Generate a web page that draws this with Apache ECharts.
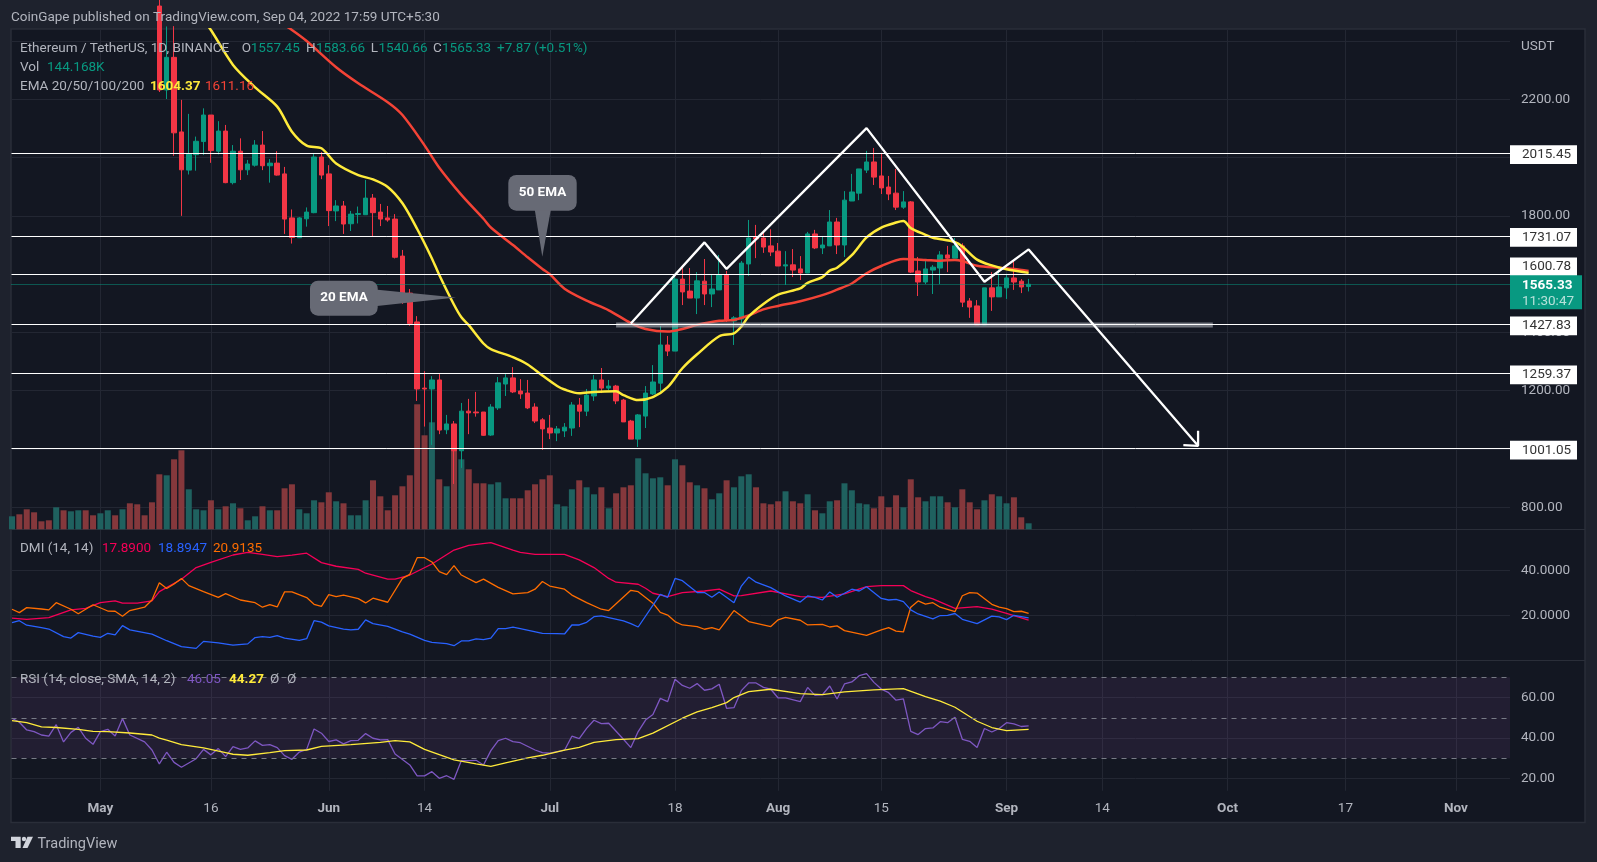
<!DOCTYPE html>
<html>
<head>
<meta charset="utf-8">
<title>ETH / USDT</title>
<style>
  html, body { margin: 0; padding: 0; background: #1e222d; }
  #chart { width: 1597px; height: 862px; }
</style>
<script src="https://cdn.jsdelivr.net/npm/echarts@6/dist/echarts.min.js"></script>
</head>
<body>
<div id="chart"></div>
<script>
// candles start at bar 20 (May 9), everything before that is above the visible price range
const firstCandleBar = 20;
const candleOpen = [
  2520, 2232, 2344, 2088, 1957, 2010, 2055, 2146, 2022, 2091,
  1914, 2022, 1958, 1974, 2043, 1972, 1981, 1944, 1793, 1725,
  1790, 1811, 2002, 1944, 1817, 1834, 1773, 1805, 1804, 1861,
  1813, 1793, 1789, 1662, 1535, 1436, 1209, 1206, 1237, 1066,
  1086, 994, 1130, 1127, 1127, 1048, 1141, 1223, 1244, 1199,
  1192, 1144, 1100, 1072, 1055, 1062, 1072, 1151, 1130, 1182,
  1237, 1209, 1216, 1168, 1096, 1034, 1113, 1189, 1226, 1357,
  1336, 1583, 1542, 1518, 1576, 1532, 1546, 1597, 1439, 1446,
  1635, 1726, 1724, 1697, 1679, 1628, 1632, 1618, 1604, 1738,
  1690, 1697, 1779, 1700, 1851, 1878, 1957, 1985, 1937, 1899,
  1878, 1830, 1848, 1611, 1573, 1614, 1621, 1666, 1655, 1697,
  1508, 1491, 1426, 1553, 1522, 1553, 1587, 1576, 1557.45
];
const candleClose = [
  2232, 2344, 2085, 1958, 2012, 2056, 2146, 2024, 2091, 1914,
  2022, 1958, 1978, 2043, 1972, 1981, 1940, 1789, 1726, 1793,
  1813, 2002, 1940, 1818, 1834, 1772, 1806, 1808, 1861, 1811,
  1789, 1786, 1658, 1533, 1431, 1206, 1206, 1237, 1065, 1086,
  994, 1130, 1124, 1124, 1047, 1144, 1227, 1244, 1196, 1189,
  1141, 1096, 1069, 1055, 1069, 1075, 1151, 1130, 1185, 1237,
  1209, 1216, 1165, 1093, 1034, 1117, 1192, 1230, 1357, 1336,
  1583, 1539, 1518, 1577, 1532, 1549, 1597, 1443, 1450, 1638,
  1724, 1721, 1693, 1676, 1628, 1632, 1614, 1604, 1738, 1690,
  1700, 1779, 1700, 1854, 1882, 1961, 1985, 1933, 1896, 1875,
  1830, 1848, 1607, 1573, 1618, 1624, 1666, 1655, 1697, 1504,
  1487, 1426, 1553, 1522, 1556, 1587, 1573, 1556, 1565.33
];
const candleLow = [
  2225, 2201, 2006, 1800, 1942, 1955, 2009, 1982, 2011, 1912,
  1908, 1923, 1940, 1969, 1957, 1914, 1938, 1738, 1705, 1724,
  1763, 1809, 1926, 1765, 1782, 1738, 1748, 1774, 1803, 1729,
  1765, 1780, 1654, 1498, 1423, 1165, 1077, 1014, 1051, 1051,
  880, 935, 1051, 1111, 1045, 1045, 1134, 1182, 1192, 1172,
  1137, 1089, 997, 1034, 1027, 1041, 1045, 1075, 1113, 1165,
  1192, 1202, 1154, 1093, 1034, 1007, 1072, 1185, 1192, 1319,
  1336, 1494, 1518, 1463, 1494, 1487, 1546, 1436, 1357, 1422,
  1594, 1655, 1673, 1662, 1628, 1563, 1590, 1580, 1604, 1686,
  1669, 1697, 1669, 1659, 1851, 1854, 1947, 1906, 1875, 1854,
  1820, 1824, 1604, 1525, 1566, 1532, 1566, 1607, 1655, 1487,
  1450, 1426, 1426, 1474, 1522, 1515, 1546, 1535, 1540.66
];
const candleHigh = [
  2550, 2450, 2451, 2198, 2150, 2072, 2169, 2146, 2125, 2112,
  2043, 2066, 1992, 2060, 2091, 1995, 2022, 1968, 1822, 1796,
  1829, 2015, 2019, 1974, 1854, 1851, 1817, 1832, 1923, 1875,
  1841, 1834, 1806, 1683, 1549, 1456, 1267, 1250, 1257, 1117,
  1096, 1158, 1172, 1196, 1127, 1154, 1247, 1257, 1281, 1240,
  1237, 1157, 1106, 1117, 1079, 1089, 1161, 1175, 1206, 1254,
  1278, 1237, 1220, 1172, 1100, 1120, 1216, 1288, 1422, 1388,
  1597, 1631, 1621, 1607, 1652, 1597, 1666, 1611, 1456, 1645,
  1786, 1769, 1745, 1754, 1707, 1679, 1686, 1662, 1745, 1752,
  1731, 1820, 1793, 1885, 1944, 1961, 2023, 2033, 2016, 1937,
  1961, 1885, 1851, 1659, 1649, 1631, 1679, 1697, 1724, 1706,
  1518, 1511, 1553, 1607, 1621, 1601, 1649, 1583, 1583.66
];

// volume in thousands, one per bar from Apr 19
const volumes = [
  312, 360, 480, 408, 192, 216, 528, 456, 432, 456,
  456, 336, 384, 456, 336, 480, 624, 600, 336, 648,
  1320, 1296, 1680, 1896, 960, 480, 456, 696, 480, 552,
  624, 504, 216, 312, 552, 456, 456, 984, 1080, 480,
  384, 696, 648, 888, 672, 624, 336, 336, 696, 1176,
  792, 456, 816, 1032, 1296, 3000, 2256, 2568, 1200, 1032,
  1896, 1680, 1440, 1104, 1104, 1080, 1128, 744, 744, 744,
  936, 1080, 1200, 1296, 600, 552, 960, 1176, 1008, 840,
  1008, 504, 864, 1008, 1056, 1704, 1344, 1224, 1248, 1056,
  1680, 1536, 1128, 1056, 984, 720, 864, 1176, 1008, 1272,
  1320, 1008, 624, 600, 672, 912, 672, 624, 840, 456,
  384, 672, 696, 1104, 936, 624, 600, 504, 792, 528,
  816, 528, 1200, 768, 672, 792, 792, 648, 528, 960,
  648, 480, 696, 840, 792, 624, 768, 288, 144.168
];
// direction of the volume bars whose candles are off the top of the chart
const earlyVolumeUp = [1, 0, 0, 0, 0, 0, 1, 0, 1, 1, 0, 0, 1, 1, 0, 1, 0, 0, 0, 0];

const ema20Bars = [26, 27, 30, 33, 36, 38, 40, 42, 44, 47, 49, 51, 53, 55, 57, 58, 60, 61, 62, 64, 65, 68, 70, 72, 74, 75, 77, 79, 82, 83, 85, 87, 89, 91, 93, 96, 98, 99, 100, 102, 104, 107, 108, 110, 111, 112, 114, 116, 118, 120, 121, 122, 124, 125, 128, 129, 131, 133, 135, 138];
const ema20Values = [2470, 2438, 2318, 2241, 2175, 2089, 2041, 2032, 1980, 1940, 1925, 1899, 1843, 1755, 1654, 1597, 1495, 1452, 1425, 1362, 1343, 1315, 1290, 1252, 1216, 1204, 1191, 1196, 1198, 1185, 1168, 1178, 1212, 1277, 1325, 1387, 1397, 1420, 1455, 1498, 1530, 1551, 1570, 1590, 1612, 1622, 1665, 1726, 1760, 1777, 1782, 1758, 1735, 1725, 1710, 1695, 1650, 1630, 1617, 1604.37];
const ema50Bars = [36, 38, 40, 44, 47, 51, 53, 56, 58, 61, 64, 65, 68, 70, 72, 73, 75, 78, 81, 84, 86, 89, 91, 93, 96, 98, 100, 102, 104, 107, 110, 112, 114, 116, 118, 121, 124, 126, 128, 129, 131, 134, 136, 138];
const ema50Values = [2470, 2438, 2400, 2310, 2255, 2190, 2146, 2042, 1965, 1872, 1790, 1760, 1700, 1658, 1618, 1600, 1550, 1509, 1476, 1432, 1412, 1403, 1412, 1426, 1440, 1443, 1458, 1479, 1491, 1507, 1528, 1547, 1568, 1603, 1628, 1652, 1649, 1646, 1649, 1645, 1629, 1622, 1618, 1611.16];

const adxBars = [0, 2, 5, 8, 10, 12, 14, 15, 17, 19, 20, 23, 25, 27, 30, 32, 34, 36, 38, 40, 42, 44, 47, 48, 51, 52, 54, 57, 60, 62, 65, 68, 69, 71, 75, 77, 79, 81, 82, 85, 86, 87, 89, 91, 94, 96, 98, 99, 103, 107, 110, 113, 116, 118, 121, 122, 124, 125, 128, 131, 133, 135, 138];
const adxValues = [18.7, 18.2, 19, 22.4, 23.1, 25.6, 26.4, 25.4, 25.4, 26.4, 30.5, 36, 41.2, 43.5, 46.8, 48, 47.1, 46.1, 46.7, 47.6, 43.4, 41.8, 40.4, 38.7, 36.1, 36.1, 37.9, 42.8, 49, 51.1, 52.3, 49, 48, 47.1, 47.1, 44.6, 41.2, 36.4, 34.7, 33.8, 32, 29.8, 28.3, 30.1, 30.8, 31.6, 28.6, 28.7, 30.8, 28.3, 28, 29.5, 32.7, 33.2, 33.2, 31, 28.3, 27.3, 23.1, 23.9, 22.7, 20.9, 17.89];
const diPlusBars = [0, 1, 2, 4, 5, 7, 8, 9, 11, 12, 13, 14, 15, 16, 19, 21, 23, 25, 26, 28, 30, 32, 33, 34, 35, 36, 37, 39, 40, 41, 42, 43, 45, 46, 47, 48, 49, 51, 53, 54, 56, 57, 59, 60, 61, 62, 63, 64, 65, 66, 67, 68, 69, 72, 74, 75, 76, 77, 78, 79, 80, 81, 83, 84, 85, 88, 89, 90, 91, 93, 94, 95, 96, 98, 99, 100, 101, 103, 105, 107, 108, 109, 110, 111, 112, 114, 115, 116, 118, 119, 120, 121, 122, 123, 125, 126, 127, 128, 129, 131, 133, 134, 135, 136, 138];
const diPlusValues = [16.7, 17.6, 15.6, 14.5, 13.9, 10.5, 9.9, 12.3, 10.7, 10.2, 12, 11.3, 15.4, 13.5, 11.6, 8.7, 6.1, 5.3, 8.4, 7.7, 6.7, 7.3, 10.1, 10.5, 10.2, 11, 9.9, 8.9, 9.6, 17.6, 17, 15.3, 13.9, 13.5, 13.8, 18, 16.3, 15.1, 12.6, 11.6, 8.9, 8, 7.4, 6.5, 8.6, 8.6, 9.5, 9.2, 9.9, 14.1, 14.1, 14.7, 14.1, 12, 11.9, 11.7, 15.7, 15.7, 16.9, 19.4, 19.7, 19, 17.5, 16.3, 14.8, 29.3, 28, 36.4, 35.4, 30.1, 30.1, 28, 30.4, 25.6, 33, 37, 34.7, 32.3, 28.6, 25.9, 28.6, 28, 26.8, 30.4, 28, 31.6, 30.8, 32.7, 27.5, 26.8, 27.1, 26.1, 22.4, 20.6, 18.4, 19.9, 20, 20.8, 18.2, 16.3, 19.6, 19.3, 18.1, 20, 18.89];
const diMinusBars = [0, 1, 2, 4, 5, 6, 8, 9, 11, 13, 14, 15, 16, 18, 19, 20, 21, 22, 23, 24, 26, 28, 29, 31, 33, 34, 35, 36, 37, 38, 40, 41, 42, 43, 44, 45, 47, 48, 49, 51, 53, 54, 55, 56, 57, 58, 59, 60, 61, 63, 64, 66, 68, 70, 71, 72, 73, 75, 76, 78, 80, 81, 84, 85, 87, 88, 89, 90, 91, 93, 94, 95, 96, 98, 100, 103, 104, 105, 107, 108, 110, 111, 112, 113, 116, 118, 119, 120, 121, 122, 123, 124, 125, 126, 128, 129, 130, 131, 133, 134, 135, 136, 137, 138];
const diMinusValues = [22.7, 21.2, 23.4, 22.8, 22.4, 25.6, 22.7, 20.7, 24.7, 21.9, 21.8, 19.6, 22.1, 23.6, 26.8, 34.5, 31.9, 33.9, 36.4, 33.2, 30.5, 28, 29.6, 26.8, 25.6, 23.6, 24.7, 23.7, 30.4, 30.4, 27.9, 24.9, 24, 29.2, 28.3, 29, 27.4, 25.5, 27.6, 25.8, 36.4, 38.2, 45.6, 45.6, 43.7, 39.4, 38.1, 42.1, 37.9, 34.5, 36.1, 32.4, 29.5, 30.1, 31.6, 35, 33, 31.6, 29, 25.6, 22.7, 22.1, 31.1, 30.5, 25.4, 21.3, 20.1, 17.2, 15.7, 15, 13.8, 14.5, 13.5, 22.1, 17.2, 15, 18, 19.1, 17.8, 15.7, 16, 14.8, 15.3, 13.2, 11.1, 13.5, 14.5, 13, 12.6, 23.6, 26.4, 25, 25.6, 23.6, 21.6, 28.7, 30.1, 29.9, 24.9, 23.6, 23, 21.6, 21.8, 20.91];

const rsiBars = [0, 1, 2, 3, 4, 5, 6, 7, 8, 9, 10, 11, 12, 13, 14, 15, 16, 18, 19, 20, 21, 22, 23, 25, 26, 27, 28, 29, 30, 31, 32, 33, 34, 35, 36, 37, 38, 39, 40, 41, 42, 43, 44, 45, 46, 47, 48, 49, 50, 51, 52, 54, 55, 56, 57, 58, 59, 60, 61, 62, 63, 64, 65, 66, 67, 68, 69, 71, 72, 73, 75, 76, 77, 78, 79, 80, 81, 83, 84, 85, 86, 87, 88, 89, 90, 91, 92, 93, 94, 95, 96, 97, 98, 99, 100, 101, 102, 103, 104, 105, 107, 108, 109, 110, 111, 112, 113, 114, 115, 116, 117, 118, 119, 120, 121, 122, 123, 124, 125, 126, 127, 128, 129, 130, 131, 132, 133, 134, 135, 136, 137, 138];
const rsiValues = [49.8, 47.8, 44, 43.2, 41.5, 41, 46.6, 38.1, 42.8, 45.3, 39.9, 36.9, 43.2, 44.3, 41, 49.6, 41.5, 38.1, 34.1, 27.2, 33, 28, 25.6, 29.8, 34.4, 31.7, 34.8, 30.8, 35.8, 34.4, 35.1, 38.6, 36.4, 36.8, 35.3, 31.3, 29.5, 33.1, 34.4, 44.5, 42.4, 38.3, 39.1, 37.1, 38.7, 38.9, 42.2, 39.9, 39.1, 39.2, 32.1, 26.7, 21.3, 21.3, 23.4, 20.1, 21.4, 19.6, 28.9, 28.9, 29, 26.7, 33.8, 38.7, 39.9, 38.2, 37.7, 34.1, 32.8, 32.5, 34, 40.9, 39.7, 44.8, 48.8, 47.1, 47.3, 39.4, 35.3, 43.2, 48.9, 51.6, 59.6, 58, 69, 66, 64.6, 66.9, 63.6, 64.3, 66.6, 54.7, 55, 63.4, 67.2, 67.2, 65, 64.1, 59.8, 59.8, 58, 65, 61.1, 61.4, 65.7, 59.3, 66.7, 67.7, 70.8, 71.8, 67.5, 64.2, 62.4, 58.7, 59.3, 43.3, 41.7, 44.7, 45, 48.1, 47.6, 50.3, 39.4, 38.4, 35.3, 44.7, 43, 44.7, 47.6, 47, 45.7, 46.05];
const rsiMaBars = [0, 2, 4, 6, 9, 11, 13, 16, 19, 20, 21, 23, 26, 29, 30, 32, 35, 37, 40, 42, 46, 50, 52, 54, 56, 58, 60, 63, 65, 67, 70, 72, 75, 77, 79, 82, 85, 87, 91, 93, 95, 97, 98, 100, 103, 107, 110, 113, 117, 121, 124, 126, 128, 131, 133, 135, 138];
const rsiMaValues = [48.6, 47.6, 45.5, 45.2, 44.3, 43.3, 43.2, 42.5, 41.5, 40, 39, 36.8, 35.1, 32.8, 32, 31.5, 32.8, 33.8, 34.1, 35.9, 36.8, 37.9, 38.7, 38.1, 34.4, 31.8, 29.2, 27.2, 26, 27.7, 30.2, 31.5, 34, 35.4, 37.9, 39.2, 39.7, 42.4, 49.8, 52.9, 55, 57.5, 60, 62.9, 64.1, 61.9, 61.4, 62.8, 63.8, 64.4, 60.5, 58.2, 55.2, 48.3, 45.2, 43.7, 44.27];

// horizontal levels and drawings on the price pane
const priceLevels = [2015.45, 1731.07, 1600.78, 1427.83, 1259.37, 1001.05];
const lastPrice = 1565.33;
const countdown = '11:30:47';
const patternDates = ['2022-07-12', '2022-07-22', '2022-07-25', '2022-08-13', '2022-08-29', '2022-09-04', '2022-09-27'];
const patternPrices = [1431, 1709, 1618, 2101, 1574, 1685, 1011];
const arrowDates = ['2022-09-25', '2022-09-27', '2022-09-27'];
const arrowPrices = [1013, 1011, 1063];
const necklineDates = ['2022-07-10', '2022-09-29'];
const necklinePrices = [1425.5, 1425.5];

const tickDates = ['2022-05-01', '2022-05-16', '2022-06-01', '2022-06-14', '2022-07-01', '2022-07-18', '2022-08-01', '2022-08-15', '2022-09-01', '2022-09-14', '2022-10-01', '2022-10-17', '2022-11-01'];
const tickLabels = ['May', '16', 'Jun', '14', 'Jul', '18', 'Aug', '15', 'Sep', '14', 'Oct', '17', 'Nov'];
const priceGridTicks = [800, 1000, 1200, 1400, 1600, 1800, 2000, 2200, 2400];
const priceLabelTicks = [800, 1200, 1400, 1800, 2200];
const dmiTicks = [20, 40];
const rsiTicks = [20, 40, 60];
const rsiGuides = [70, 50, 30];

const FONT = 'Roboto, "Open Sans", sans-serif';
const TEXT = '#b2b5be';
const UP = '#089981';
const DOWN = '#f23645';
const GRID = '#232733';
const EDGE = '#2a2e39';
const INK_YELLOW = '#ffeb3b';
const INK_RED = '#f44336';
const PANE_LEFT = 11.5, PANE_RIGHT = 1510, FRAME_RIGHT = 1585;

const dayTime = s => { const p = s.split('-'); return +new Date(+p[0], +p[1] - 1, +p[2]); };
const barTime = i => +new Date(2022, 3, 19 + i);
const sparse = (bars, vals) => bars.map((b, k) => [barTime(b), vals[k]]);
const dated = (dates, vals) => dates.map((d, k) => [dayTime(d), vals[k]]);

const tickTimes = tickDates.map(dayTime);
const xView = [dayTime('2022-05-01') - 12.067 * 864e5, dayTime('2022-05-01') + 191.34 * 864e5];

const candleData = candleOpen.map((o, k) => [barTime(firstCandleBar + k), o, candleClose[k], candleLow[k], candleHigh[k]]);
const volumeData = volumes.map((v, i) => {
  const up = i < firstCandleBar ? earlyVolumeUp[i] : candleClose[i - firstCandleBar] >= candleOpen[i - firstCandleBar];
  return { value: [barTime(i), v], itemStyle: { color: up ? '#1f615f' : '#85383c' } };
});

// x is a plain value axis of timestamps, so the irregular date ticks can be listed
function xAxisFor(gridIndex, withLabels) {
  return {
    type: 'value', gridIndex: gridIndex, min: xView[0], max: xView[1],
    axisLine: { show: false },
    axisTick: { show: false, customValues: tickTimes },
    splitLine: { show: true, lineStyle: { color: GRID, width: 1 } },
    axisLabel: withLabels ? {
      show: true, customValues: tickTimes, margin: 11, hideOverlap: false,
      formatter: v => {
        const lab = tickLabels[tickTimes.indexOf(v)];
        return /^\d/.test(lab) ? '{d|' + lab + '}' : '{m|' + lab + '}';
      },
      rich: {
        d: { color: TEXT, fontFamily: FONT, fontSize: 13.5 },
        m: { color: TEXT, fontFamily: FONT, fontSize: 13.5, fontWeight: 'bold' }
      }
    } : { show: false }
  };
}

function yAxisFor(gridIndex, min, max, gridTicks, labelTicks, digits) {
  return {
    type: 'value', gridIndex: gridIndex, position: 'right', min: min, max: max, scale: true,
    axisLine: { show: false },
    axisTick: { show: false, customValues: gridTicks },
    splitLine: { show: true, lineStyle: { color: GRID, width: 1 } },
    axisLabel: {
      show: true, customValues: labelTicks, inside: false, margin: 11, align: 'left',
      color: TEXT, fontFamily: FONT, fontSize: 13.5,
      formatter: v => v.toFixed(digits)
    }
  };
}

function thinLine(name, data, color, gridIndex, width, smooth) {
  return {
    name: name, type: 'line', data: data, xAxisIndex: gridIndex, yAxisIndex: gridIndex === 0 ? 0 : gridIndex + 1,
    showSymbol: false, symbol: 'none', smooth: smooth || false, silent: true, z: 3,
    lineStyle: { color: color, width: width }
  };
}

// the 1600.78 box is pushed up by the last price box, same as on the chart
const levelMarks = priceLevels.map(v => ({
  yAxis: v,
  label: { formatter: v.toFixed(2), offset: v === 1600.78 ? [0, -7] : [0, 1.5] }
}));
levelMarks.push({
  yAxis: lastPrice,
  lineStyle: { color: UP, type: 'dotted', width: 1 },
  label: {
    formatter: '{p|' + lastPrice.toFixed(2) + '}\n{t|' + countdown + '}',
    offset: [0, 8], width: 60, height: 30, padding: [2, 0, 2, 12], backgroundColor: UP,
    rich: {
      p: { color: '#ffffff', fontFamily: FONT, fontSize: 13.5, fontWeight: 'bold', lineHeight: 16 },
      t: { color: 'rgba(255,255,255,0.7)', fontFamily: FONT, fontSize: 13.5, lineHeight: 16 }
    }
  }
});

const rows = [];
function addText(x, y, text, color, weight) {
  rows.push({
    type: 'text', x: x, y: y, z: 60,
    style: { text: text, fill: color, font: (weight || '') + ' 13.5px ' + FONT, textVerticalAlign: 'middle' }
  });
}
const last = candleOpen.length - 1;
const lastVolume = volumes[volumes.length - 1];
addText(11, 17.5, 'CoinGape published on TradingView.com, Sep 04, 2022 17:59 UTC+5:30', TEXT);
addText(20, 48.5, 'Ethereum / TetherUS, 1D, BINANCE', TEXT);
[['O', candleOpen[last], 241.7, 250.7], ['H', candleHigh[last], 306, 316], ['L', candleLow[last], 370.7, 378.5], ['C', candleClose[last], 433, 442]].forEach(r => {
  addText(r[2], 48.5, r[0], TEXT);
  addText(r[3], 48.5, r[1].toFixed(2), UP);
});
addText(497, 48.5, '+7.87 (+0.51%)', UP);
addText(20, 67.5, 'Vol', TEXT);
addText(47, 67.5, lastVolume.toFixed(3) + 'K', UP);
addText(20, 87, 'EMA 20/50/100/200', TEXT);
addText(150, 87, ema20Values[ema20Values.length - 1].toFixed(2), INK_YELLOW, 'bold');
addText(205, 87, ema50Values[ema50Values.length - 1].toFixed(2), INK_RED);
addText(20, 549, 'DMI (14, 14)', TEXT);
addText(102, 549, '17.8900', '#f50057');
addText(158, 549, '18.8947', '#2962ff');
addText(213, 549, '20.9135', '#ff6d00');
addText(20, 679.5, 'RSI (14, close, SMA, 14, 2)', TEXT);
addText(187, 679.5, '46.05', '#7e57c2');
addText(229, 679.5, '44.27', INK_YELLOW, 'bold');
addText(270, 679.5, '\u00d8', TEXT);
addText(287, 679.5, '\u00d8', TEXT);
addText(1521, 47, 'USDT', TEXT);
rows.push({ type: 'text', x: 37.5, y: 844, z: 60, style: { text: 'TradingView', fill: '#b2b5be', font: '14.5px ' + FONT, textVerticalAlign: 'middle' } });

function frameLine(x1, y1, x2, y2) {
  return { type: 'line', z: 1, shape: { x1: x1, y1: y1, x2: x2, y2: y2 }, style: { stroke: EDGE, lineWidth: 1 } };
}
const BALLOON = '#676a75';
const graphics = [
  { type: 'rect', z: -10, shape: { x: 11, y: 29, width: FRAME_RIGHT - 11, height: 793.5 }, style: { fill: '#131722', stroke: EDGE, lineWidth: 1.5 } },
  frameLine(PANE_LEFT, 529.5, FRAME_RIGHT, 529.5),
  frameLine(PANE_LEFT, 660.5, FRAME_RIGHT, 660.5),
  // 20 EMA callout
  { type: 'polygon', z: 50, shape: { points: [[370, 289], [456, 297.5], [370, 306.7]] }, style: { fill: BALLOON } },
  { type: 'rect', z: 50, shape: { x: 310, y: 280.7, width: 67.7, height: 35, r: 8 }, style: { fill: BALLOON } },
  { type: 'text', z: 51, x: 344, y: 297.5, style: { text: '20 EMA', fill: '#ffffff', font: 'bold 13.5px ' + FONT, textAlign: 'center', textVerticalAlign: 'middle' } },
  // 50 EMA callout
  { type: 'polygon', z: 50, shape: { points: [[534, 205], [542.3, 256.7], [551.7, 205]] }, style: { fill: BALLOON } },
  { type: 'rect', z: 50, shape: { x: 508.3, y: 175, width: 68.4, height: 35.7, r: 8 }, style: { fill: BALLOON } },
  { type: 'text', z: 51, x: 542.5, y: 192.5, style: { text: '50 EMA', fill: '#ffffff', font: 'bold 13.5px ' + FONT, textAlign: 'center', textVerticalAlign: 'middle' } },
  // TradingView mark
  { type: 'polygon', z: 60, shape: { points: [[11, 836.8], [20.7, 836.8], [20.7, 848], [15.5, 848], [15.5, 841], [11, 841]] }, style: { fill: '#d1d4dc' } },
  { type: 'circle', z: 60, shape: { cx: 24, cy: 839, r: 2.2 }, style: { fill: '#d1d4dc' } },
  { type: 'polygon', z: 60, shape: { points: [[27.5, 836.8], [33, 836.8], [27.5, 848], [22.5, 848]] }, style: { fill: '#d1d4dc' } }
].concat(rows);

const chart = echarts.init(document.getElementById('chart'), null, { renderer: 'canvas' });
chart.setOption({
  animation: false,
  backgroundColor: '#1e222d',
  graphic: { elements: graphics },
  grid: [
    { left: PANE_LEFT, width: PANE_RIGHT - PANE_LEFT, top: 29.3, height: 500 },
    { left: PANE_LEFT, width: PANE_RIGHT - PANE_LEFT, top: 529.8, height: 130.5 },
    { left: PANE_LEFT, width: PANE_RIGHT - PANE_LEFT, top: 660.8, height: 130 }
  ],
  xAxis: [xAxisFor(0, false), xAxisFor(1, false), xAxisFor(2, true)],
  yAxis: [
    yAxisFor(0, 724.5, 2440.2, priceGridTicks, priceLabelTicks, 2),
    // volume overlay, no axis of its own on screen
    { type: 'value', gridIndex: 0, min: 0, max: 12000, show: false, splitLine: { show: false } },
    yAxisFor(1, 0, 58, dmiTicks, dmiTicks, 4),
    yAxisFor(2, 13.95, 78.15, rsiTicks, rsiTicks, 2)
  ],
  series: [
    {
      name: 'Vol', type: 'bar', data: volumeData, xAxisIndex: 0, yAxisIndex: 1,
      barWidth: 6, silent: true, z: 1
    },
    {
      name: 'ETHUSDT', type: 'candlestick', data: candleData, xAxisIndex: 0, yAxisIndex: 0,
      barWidth: 5, silent: true, z: 2,
      itemStyle: { color: UP, color0: DOWN, borderColor: UP, borderColor0: DOWN, borderWidth: 1 }
    },
    thinLine('EMA 50', sparse(ema50Bars, ema50Values), INK_RED, 0, 2.5, 0.3),
    thinLine('EMA 20', sparse(ema20Bars, ema20Values), INK_YELLOW, 0, 2.5, 0.3),
    Object.assign(thinLine('Neckline', dated(necklineDates, necklinePrices), 'rgba(178,181,190,0.6)', 0, 5), { z: 4 }),
    Object.assign(thinLine('Pattern', dated(patternDates, patternPrices), '#ffffff', 0, 2.3), {
      z: 5,
      markLine: {
        silent: true, symbol: 'none', animation: false,
        lineStyle: { color: '#ffffff', type: 'solid', width: 1 },
        label: {
          show: true, position: 'end', distance: 0, color: '#333333', fontFamily: FONT, fontSize: 13.5,
          backgroundColor: '#ffffff', width: 50, height: 14.7, padding: [2, 5, 2, 12], align: 'left'
        },
        data: levelMarks
      }
    }),
    Object.assign(thinLine('Arrow', dated(arrowDates, arrowPrices), '#ffffff', 0, 2.3), { z: 5 }),
    thinLine('ADX', sparse(adxBars, adxValues), '#f50057', 1, 1.3),
    thinLine('DI-', sparse(diMinusBars, diMinusValues), '#ff6d00', 1, 1.3),
    thinLine('DI+', sparse(diPlusBars, diPlusValues), '#2962ff', 1, 1.3),
    Object.assign(thinLine('RSI', sparse(rsiBars, rsiValues), '#7e57c2', 2, 1.3), {
      markArea: {
        silent: true,
        itemStyle: { color: 'rgba(150,80,170,0.12)' },
        data: [[{ yAxis: rsiGuides[0] }, { yAxis: rsiGuides[2] }]]
      },
      markLine: {
        silent: true, symbol: 'none', animation: false, label: { show: false },
        lineStyle: { color: '#787b86', type: [5, 5], width: 1 },
        data: rsiGuides.map(v => ({ yAxis: v }))
      }
    }),
    thinLine('RSI MA', sparse(rsiMaBars, rsiMaValues), INK_YELLOW, 2, 1.3)
  ]
});
</script>
</body>
</html>
